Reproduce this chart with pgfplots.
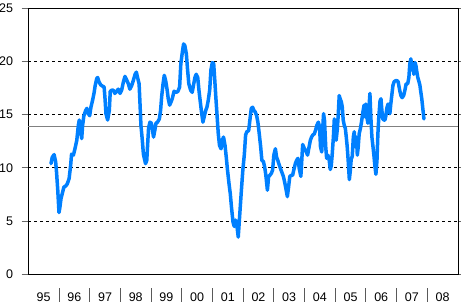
\documentclass[border=0pt]{standalone}
\usepackage{pgfplots}
\pgfplotsset{compat=1.18}
\usepackage{fontspec}
\setmainfont{Liberation Sans}
\definecolor{lineblue}{RGB}{0,128,255}
\newcommand\sep{\textcolor{black!65}{\rule{0.9pt}{13.7pt}}}
\begin{document}
\begin{tikzpicture}
\begin{axis}[
  scale only axis,
  width=429.7pt, height=266pt,
  xmin=1995, xmax=2009, ymin=0, ymax=25,
  axis line style={black, line width=1pt},
  ytick={0,5,...,25},
  ymajorgrids,
  grid style={black, dashed, line width=0.9pt, dash pattern=on 3pt off 3pt},
  ytick style={draw=black!60, line width=1pt},
  ytick align=outside,
  major tick length=6.6pt,
  yticklabel style={anchor=east, inner sep=0pt, xshift=-8.4pt},
  xtick={1995.5,1996.5,...,2008.5},
  xticklabels={95,96,97,98,99,00,01,02,03,04,05,06,07,08},
  xtick style={draw=none},
  xticklabel style={anchor=base, inner sep=0pt, yshift=-27.4pt},
  extra x ticks={1996,1997,...,2008},
  extra x tick labels={\sep,\sep,\sep,\sep,\sep,\sep,\sep,\sep,\sep,\sep,\sep,\sep,\sep},
  extra x tick style={grid=none},
  ticklabel style={font=\fontsize{12.5}{14}\selectfont, text=black},
  /pgf/number format/assume math mode=true,
  clip=false,
]
\addplot[gray, line width=1.1pt, forget plot] coordinates {(1995,13.9) (2009,13.9)};
\addplot[lineblue, line width=3.5pt, line join=round, line cap=round] coordinates {
(1995.74,10.4) (1995.78,11.0) (1995.84,11.25) (1995.89,10.6) (1995.92,9.6) (1995.96,7.9)
(1996.00,5.8) (1996.03,6.3) (1996.065,7.1) (1996.12,7.75) (1996.16,8.2) (1996.22,8.3)
(1996.27,8.5) (1996.33,9.0) (1996.38,10.25) (1996.41,11.3) (1996.47,11.2) (1996.52,11.8)
(1996.58,12.6) (1996.63,14.0) (1996.66,14.5) (1996.695,13.7) (1996.74,12.75) (1996.77,14.0)
(1996.81,14.9) (1996.87,15.4) (1996.91,15.6) (1996.955,15.1) (1997.00,14.9) (1997.04,15.7)
(1997.09,16.3) (1997.14,17.0) (1997.18,17.75) (1997.23,18.4) (1997.26,18.5) (1997.30,18.1)
(1997.36,17.8) (1997.41,17.7) (1997.47,17.6) (1997.50,16.5) (1997.53,15.1) (1997.585,14.5)
(1997.64,15.4) (1997.67,17.2) (1997.72,17.3) (1997.77,17.3) (1997.82,17.0) (1997.88,17.2)
(1997.93,17.4) (1997.99,17.0) (1998.04,17.3) (1998.10,18.1) (1998.15,18.6) (1998.20,18.3)
(1998.26,17.9) (1998.31,17.4) (1998.37,17.75) (1998.42,18.2) (1998.48,18.8) (1998.52,19.0)
(1998.56,18.5) (1998.61,17.9) (1998.64,16.0) (1998.67,14.0) (1998.715,12.6) (1998.75,11.3)
(1998.78,10.9) (1998.82,10.4) (1998.86,10.7) (1998.89,12.3) (1998.92,13.8) (1998.965,14.3)
(1999.01,14.2) (1999.05,13.5) (1999.08,12.9) (1999.12,13.5) (1999.16,14.2) (1999.21,14.3)
(1999.27,14.6) (1999.31,15.4) (1999.345,16.7) (1999.39,17.9) (1999.43,18.7) (1999.475,18.2)
(1999.52,17.4) (1999.56,16.5) (1999.605,15.9) (1999.65,16.2) (1999.69,16.5) (1999.75,17.2)
(1999.82,17.1) (1999.875,17.2) (1999.93,17.6) (1999.97,19.8) (2000.02,20.9) (2000.06,21.65)
(2000.10,21.5) (2000.15,20.7) (2000.19,19.2) (2000.23,17.9) (2000.29,17.3) (2000.34,17.1)
(2000.39,17.9) (2000.43,18.5) (2000.47,18.8) (2000.52,18.5) (2000.56,17.3) (2000.60,16.3)
(2000.65,15.1) (2000.69,14.3) (2000.73,14.8) (2000.78,15.4) (2000.82,15.7) (2000.86,16.3)
(2000.91,17.3) (2000.95,19.2) (2000.995,19.9) (2001.04,19.8) (2001.07,18.5) (2001.11,16.65)
(2001.16,14.5) (2001.19,13.2) (2001.23,12.1) (2001.28,11.8) (2001.32,12.6) (2001.36,12.9)
(2001.41,12.1) (2001.45,11.0) (2001.49,9.8) (2001.54,8.5) (2001.58,7.6) (2001.62,6.3)
(2001.67,4.9) (2001.71,4.5) (2001.75,5.1) (2001.80,4.5) (2001.84,3.5) (2001.91,6.5)
(2001.95,8.2) (2001.99,9.8) (2002.04,11.3) (2002.08,13.1) (2002.12,13.4) (2002.18,13.5)
(2002.22,14.5) (2002.265,15.6) (2002.31,15.7) (2002.35,15.4) (2002.395,15.25) (2002.44,14.9)
(2002.48,14.3) (2002.525,13.2) (2002.57,12.0) (2002.61,10.7) (2002.66,10.6) (2002.70,10.1)
(2002.74,9.3) (2002.79,7.9) (2002.83,9.2) (2002.87,9.3) (2002.92,9.5) (2002.96,9.8)
(2003.00,11.2) (2003.05,11.8) (2003.09,11.0) (2003.13,10.7) (2003.18,10.25) (2003.22,9.9)
(2003.26,9.6) (2003.31,9.2) (2003.35,8.7) (2003.39,8.1) (2003.44,7.3) (2003.48,8.2)
(2003.52,9.2) (2003.57,9.3) (2003.61,9.3) (2003.65,9.8) (2003.70,10.4) (2003.74,10.7)
(2003.785,10.9) (2003.83,9.9) (2003.88,9.2) (2003.94,12.2) (2003.99,11.85) (2004.05,11.55)
(2004.10,11.2) (2004.14,11.85) (2004.19,12.6) (2004.23,12.9) (2004.27,13.1) (2004.32,13.2)
(2004.36,13.55) (2004.40,14.0) (2004.45,14.3) (2004.49,13.85) (2004.52,12.0) (2004.56,11.5)
(2004.59,13.55) (2004.62,15.1) (2004.65,14.5) (2004.69,12.0) (2004.72,10.9) (2004.76,11.2)
(2004.80,10.8) (2004.84,9.85) (2004.87,10.2) (2004.90,11.2) (2004.94,12.9) (2004.97,14.6)
(2005.00,13.2) (2005.03,12.6) (2005.07,13.7) (2005.10,15.1) (2005.13,16.8) (2005.16,16.5)
(2005.20,16.2) (2005.23,15.7) (2005.26,14.5) (2005.295,14.0) (2005.33,13.7) (2005.36,12.9)
(2005.39,12.0) (2005.42,10.8) (2005.46,8.9) (2005.49,9.7) (2005.52,10.8) (2005.555,11.1)
(2005.59,12.9) (2005.62,13.4) (2005.65,12.0) (2005.69,12.9) (2005.72,11.2) (2005.75,12.0)
(2005.78,13.2) (2005.82,13.7) (2005.85,14.2) (2005.88,14.8) (2005.91,15.4) (2005.94,15.9)
(2005.97,14.8) (2006.00,16.0) (2006.03,14.8) (2006.065,14.2) (2006.10,15.7) (2006.13,17.0)
(2006.16,14.8) (2006.195,12.9) (2006.23,12.0) (2006.26,11.2) (2006.29,10.25) (2006.325,9.4)
(2006.36,10.7) (2006.39,13.2) (2006.42,14.8) (2006.46,16.3) (2006.49,16.5) (2006.52,15.4)
(2006.55,14.6) (2006.59,14.5) (2006.62,14.5) (2006.65,14.9) (2006.68,15.6) (2006.72,16.0)
(2006.75,15.7) (2006.78,15.1) (2006.81,16.0) (2006.85,17.0) (2006.88,17.75) (2006.92,18.1)
(2006.97,18.2) (2007.01,18.2) (2007.05,18.1) (2007.10,17.3) (2007.14,16.8) (2007.18,16.6)
(2007.23,16.8) (2007.27,17.3) (2007.31,17.9) (2007.36,17.9) (2007.40,18.5) (2007.43,19.8)
(2007.465,20.25) (2007.50,19.2) (2007.53,19.8) (2007.56,18.8) (2007.60,19.9) (2007.63,19.6)
(2007.66,19.0) (2007.69,18.5) (2007.73,18.1) (2007.76,17.75) (2007.79,17.1) (2007.82,16.5)
(2007.86,15.4) (2007.89,14.6)
};
\end{axis}
\pgfresetboundingbox
\path (current axis.south west) ++(-28.3pt,-28.7pt) coordinate (bbl);
\path (current axis.north east) ++(3pt,8.3pt) coordinate (btr);
\useasboundingbox (bbl) rectangle (btr);
\end{tikzpicture}
\end{document}
